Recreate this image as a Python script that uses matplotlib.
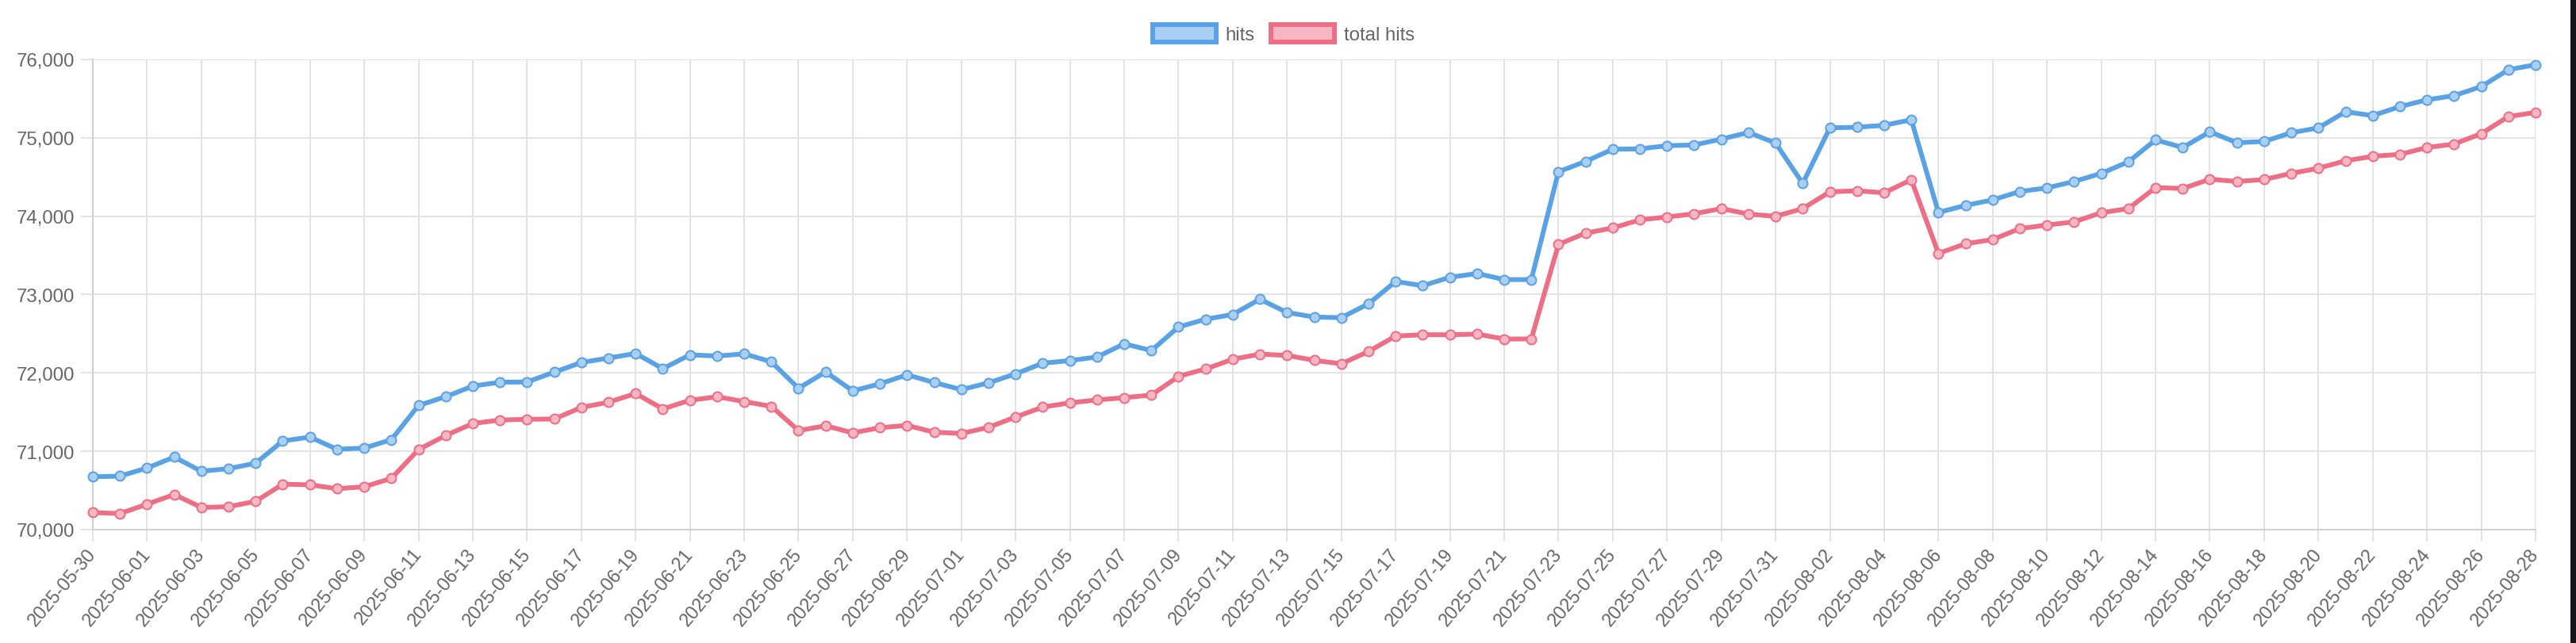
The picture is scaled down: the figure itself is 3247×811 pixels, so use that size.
import matplotlib
matplotlib.use("Agg")
import matplotlib.pyplot as plt
from matplotlib.patches import Patch, Rectangle
from matplotlib.ticker import FuncFormatter
import pandas as pd

# --- data ---
dates = pd.date_range("2025-05-30", "2025-08-28", freq="D").strftime("%Y-%m-%d").tolist()

hits = [
    70675, 70683, 70786, 70926, 70745, 70778, 70848, 71132, 71181, 71025,
    71041, 71148, 71585, 71696, 71832, 71881, 71885, 72009, 72133, 72190,
    72248, 72054, 72231, 72215, 72244, 72141, 71803, 72013, 71770, 71861,
    71976, 71877, 71787, 71873, 71988, 72124, 72157, 72203, 72372, 72285,
    72586, 72685, 72746, 72940, 72771, 72713, 72705, 72882, 73166, 73113,
    73220, 73269, 73191, 73191, 74567, 74699, 74855, 74859, 74900, 74909,
    74983, 75069, 74933, 74418, 75127, 75135, 75160, 75230, 74048, 74138,
    74208, 74315, 74361, 74443, 74546, 74694, 74974, 74876, 75077, 74937,
    74954, 75065, 75127, 75333, 75283, 75399, 75485, 75539, 75654, 75868,
    75934,
]

total_hits = [
    70218, 70205, 70325, 70448, 70283, 70292, 70362, 70580, 70572, 70522,
    70547, 70654, 71021, 71202, 71354, 71399, 71408, 71412, 71560, 71626,
    71737, 71540, 71651, 71696, 71634, 71573, 71264, 71325, 71235, 71301,
    71330, 71243, 71227, 71305, 71437, 71564, 71618, 71655, 71684, 71717,
    71956, 72050, 72174, 72240, 72223, 72161, 72116, 72273, 72470, 72487,
    72487, 72495, 72433, 72433, 73640, 73784, 73850, 73953, 73990, 74031,
    74097, 74027, 73998, 74097, 74311, 74324, 74299, 74464, 73525, 73648,
    73702, 73842, 73887, 73928, 74044, 74097, 74365, 74353, 74472, 74443,
    74468, 74546, 74612, 74707, 74764, 74789, 74876, 74921, 75053, 75271,
    75325,
]

y_ticks = [70000, 71000, 72000, 73000, 74000, 75000, 76000]

# --- style ---
plt.rcParams["font.family"] = ["Liberation Sans", "DejaVu Sans"]
BLUE = "#59a2e5"
BLUE_FILL = "#abcff3"
PINK = "#ee6e85"
PINK_FILL = "#f7b6c3"
GRID = "#e3e3e3"
TEXT = "#666666"
FS = 17.3  # 24 px at dpi 100
PX = 0.72  # one pixel in points

W, H = 3248, 812
fig = plt.figure(figsize=(W / 100, H / 100), dpi=100)
fig.patch.set_facecolor("white")
ax = fig.add_axes([117 / W, 1 - 669 / H, (3196 - 117) / W, (669 - 76) / H])

x = list(range(len(dates)))
for series, col, fill in [(hits, BLUE, BLUE_FILL), (total_hits, PINK, PINK_FILL)]:
    ax.plot(x, series, color=col, linewidth=6 * PX, marker="o", markersize=12 * PX,
            markerfacecolor=fill, markeredgecolor=col, markeredgewidth=2 * PX,
            solid_joinstyle="miter", zorder=3, clip_on=False)

ax.set_xlim(0, len(dates) - 1)
ax.set_ylim(y_ticks[0], y_ticks[-1])
ax.set_xticks(x[::2])
ax.set_xticklabels(dates[::2])
ax.set_yticks(y_ticks)
ax.yaxis.set_major_formatter(FuncFormatter(lambda v, p: f"{int(v):,}"))

ax.grid(True, color=GRID, linewidth=2 * PX, zorder=0)
ax.set_axisbelow(True)
for s in ["top", "right"]:
    ax.spines[s].set_visible(False)
for s in ["left", "bottom"]:
    ax.spines[s].set_color("#d0d0d0")
    ax.spines[s].set_linewidth(2 * PX)

ax.tick_params(axis="both", colors=GRID, labelcolor=TEXT, labelsize=FS,
               length=15 * PX, width=2 * PX)
ax.tick_params(axis="y", pad=5.5)
ax.tick_params(axis="x", pad=8, labelsize=16.8)
plt.setp(ax.get_xticklabels(), rotation=50, ha="right", va="center",
         rotation_mode="anchor")

handles = [Patch(facecolor=BLUE_FILL, edgecolor=BLUE, linewidth=6 * PX, label="hits"),
           Patch(facecolor=PINK_FILL, edgecolor=PINK, linewidth=6 * PX, label="total hits")]
leg = fig.legend(handles=handles, loc="center", bbox_to_anchor=(1618 / W, 1 - 44 / H),
                 ncol=2, frameon=False, fontsize=FS, handlelength=3.33, handleheight=1.0,
                 handletextpad=0.5, columnspacing=0.85, borderpad=0)
for t in leg.get_texts():
    t.set_color(TEXT)

# dark strip at the right edge of the screenshot
fig.patches.append(Rectangle((3240 / W, 0), 8 / W, 1, transform=fig.transFigure,
                             facecolor="#161618", edgecolor="none"))

fig.savefig("out.png", dpi=100)
plt.close(fig)
